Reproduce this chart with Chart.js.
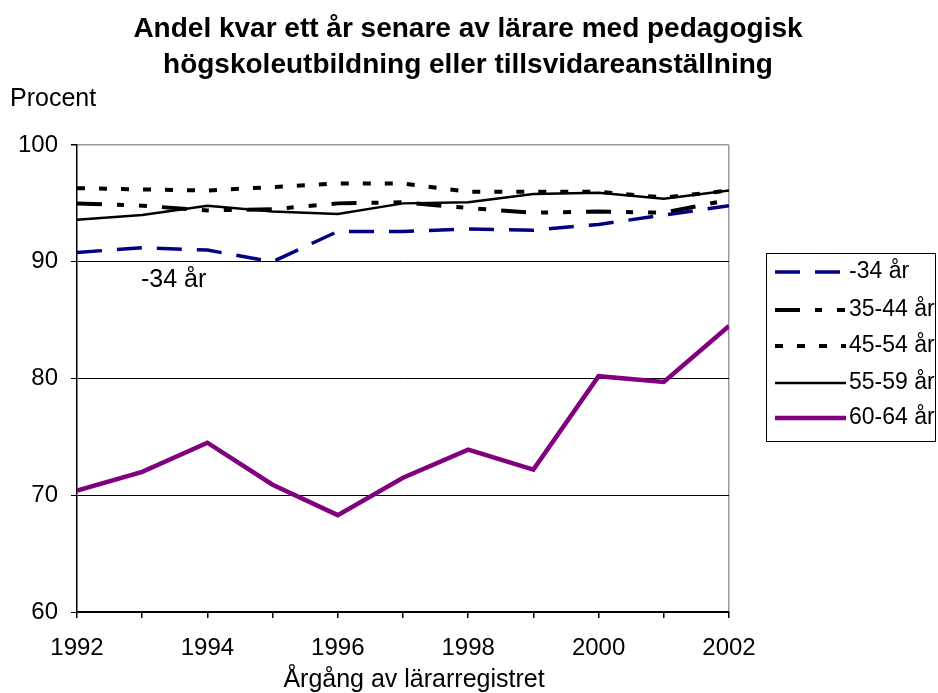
<!DOCTYPE html>
<html>
<head>
<meta charset="utf-8">
<script src="https://cdn.jsdelivr.net/npm/chart.js@4.4.1/dist/chart.umd.min.js"></script>
<style>
  html, body { margin: 0; padding: 0; background: white; }
  #wrap { width: 938px; height: 693px; }
</style>
</head>
<body>
<div id="wrap"><canvas id="chartCanvas" width="938" height="693"></canvas></div>
<script>
// data
const years = [1992, 1993, 1994, 1995, 1996, 1997, 1998, 1999, 2000, 2001, 2002];
const age34 = [90.8, 91.2, 91.0, 90.0, 92.6, 92.6, 92.8, 92.7, 93.2, 94.0, 94.8];
const age35to44 = [95.0, 94.8, 94.4, 94.5, 95.0, 95.1, 94.6, 94.2, 94.3, 94.2, 95.3];
const age45to54 = [96.3, 96.2, 96.1, 96.4, 96.7, 96.7, 96.0, 96.0, 96.0, 95.5, 96.1];
const age55to59 = [93.6, 94.0, 94.8, 94.3, 94.1, 95.0, 95.1, 95.8, 95.9, 95.4, 96.1];
const age60to64 = [70.4, 72.0, 74.5, 70.9, 68.3, 71.5, 73.9, 72.2, 80.2, 79.7, 84.5];
const seriesLabels = ['-34 år', '35-44 år', '45-54 år', '55-59 år', '60-64 år'];
const yTicks = [60, 70, 80, 90, 100];

const fontFamily = '"Liberation Sans", Arial, sans-serif';
const navy = '#000080';
const purple = '#800080';
const borderGray = '#9a9a9a';

function toPoints(values) {
    return values.map((v, i) => ({ x: years[i], y: v }));
}

// titles, "Procent", inline label and the boxed legend
const textPlugin = {
    id: 'textPlugin',
    afterDraw(chart) {
        const ctx = chart.ctx;
        ctx.save();
        ctx.fillStyle = 'black';
        ctx.textAlign = 'center';
        ctx.textBaseline = 'alphabetic';
        ctx.font = 'bold 28px ' + fontFamily;
        ctx.fillText('Andel kvar ett år senare av lärare med pedagogisk', 468, 37);
        ctx.fillText('högskoleutbildning eller tillsvidareanställning', 468, 73);

        ctx.font = '25px ' + fontFamily;
        ctx.fillText('Årgång av lärarregistret', 414, 687);
        ctx.textAlign = 'left';
        ctx.fillText('Procent', 10, 106);
        ctx.fillText('-34 år', 141, 287);

        // legend box
        const bx = 766, by = 253, bw = 169, bh = 188;
        ctx.fillStyle = 'white';
        ctx.fillRect(bx, by, bw, bh);
        ctx.strokeStyle = 'black';
        ctx.lineWidth = 1;
        ctx.strokeRect(bx + 0.5, by + 0.5, bw, bh);
        const rowY = [272, 310, 346, 383, 418];
        ctx.font = '23px ' + fontFamily;
        chart.data.datasets.forEach((ds, i) => {
            const y = rowY[i];
            ctx.strokeStyle = ds.borderColor;
            ctx.lineWidth = ds.borderWidth;
            ctx.setLineDash(ds.borderDash || []);
            ctx.beginPath();
            ctx.moveTo(775, y);
            ctx.lineTo(846, y);
            ctx.stroke();
            ctx.setLineDash([]);
            ctx.fillStyle = 'black';
            ctx.textAlign = 'left';
            ctx.fillText(ds.label, 849, y + 6);
        });
        ctx.restore();
    }
};

Chart.defaults.font.family = fontFamily;
Chart.defaults.color = 'black';

const ctx = document.getElementById('chartCanvas').getContext('2d');
new Chart(ctx, {
    type: 'line',
    data: {
        datasets: [
            { label: seriesLabels[0], data: toPoints(age34), borderColor: navy, borderWidth: 3.5, borderDash: [25, 15] },
            { label: seriesLabels[1], data: toPoints(age35to44), borderColor: 'black', borderWidth: 4, borderDash: [25, 15, 7, 15, 8, 15] },
            { label: seriesLabels[2], data: toPoints(age45to54), borderColor: 'black', borderWidth: 4, borderDash: [8, 14] },
            { label: seriesLabels[3], data: toPoints(age55to59), borderColor: 'black', borderWidth: 2.5 },
            { label: seriesLabels[4], data: toPoints(age60to64), borderColor: purple, borderWidth: 4.5 }
        ]
    },
    options: {
        responsive: false,
        animation: false,
        devicePixelRatio: 1,
        elements: {
            point: { radius: 0 },
            line: { tension: 0, borderCapStyle: 'butt', borderJoinStyle: 'miter' }
        },
        layout: { padding: { top: 145, left: 0, right: 209, bottom: 0 } },
        plugins: {
            legend: { display: false },
            title: { display: false },
            tooltip: { enabled: false }
        },
        scales: {
            x: {
                type: 'linear',
                min: years[0],
                max: years[years.length - 1],
                afterFit(scale) { scale.height = 81; },
                afterBuildTicks(scale) { scale.ticks = years.map(v => ({ value: v })); },
                ticks: {
                    font: { size: 24 },
                    padding: 16,
                    maxRotation: 0,
                    autoSkip: false,
                    callback: v => (v % 2 === 0 ? String(v) : '')
                },
                grid: {
                    drawOnChartArea: true,
                    color: c => (c.tick && c.tick.value === 2002 ? borderGray : 'rgba(0,0,0,0)'),
                    tickColor: 'black',
                    tickLength: 6,
                    lineWidth: 1.5
                },
                border: { color: 'black', width: 1.5 }
            },
            y: {
                min: 60,
                max: 100,
                afterFit(scale) { scale.width = 77; },
                afterBuildTicks(scale) { scale.ticks = yTicks.map(v => ({ value: v })); },
                ticks: { font: { size: 24 }, padding: 13 },
                grid: {
                    color: c => (c.tick && c.tick.value === 100 ? borderGray : 'black'),
                    tickColor: 'black',
                    tickLength: 6,
                    lineWidth: c => (c.tick && c.tick.value === 100 ? 1.5 : 1)
                },
                border: { color: 'black', width: 1.5 }
            }
        }
    },
    plugins: [textPlugin]
});
</script>
</body>
</html>
